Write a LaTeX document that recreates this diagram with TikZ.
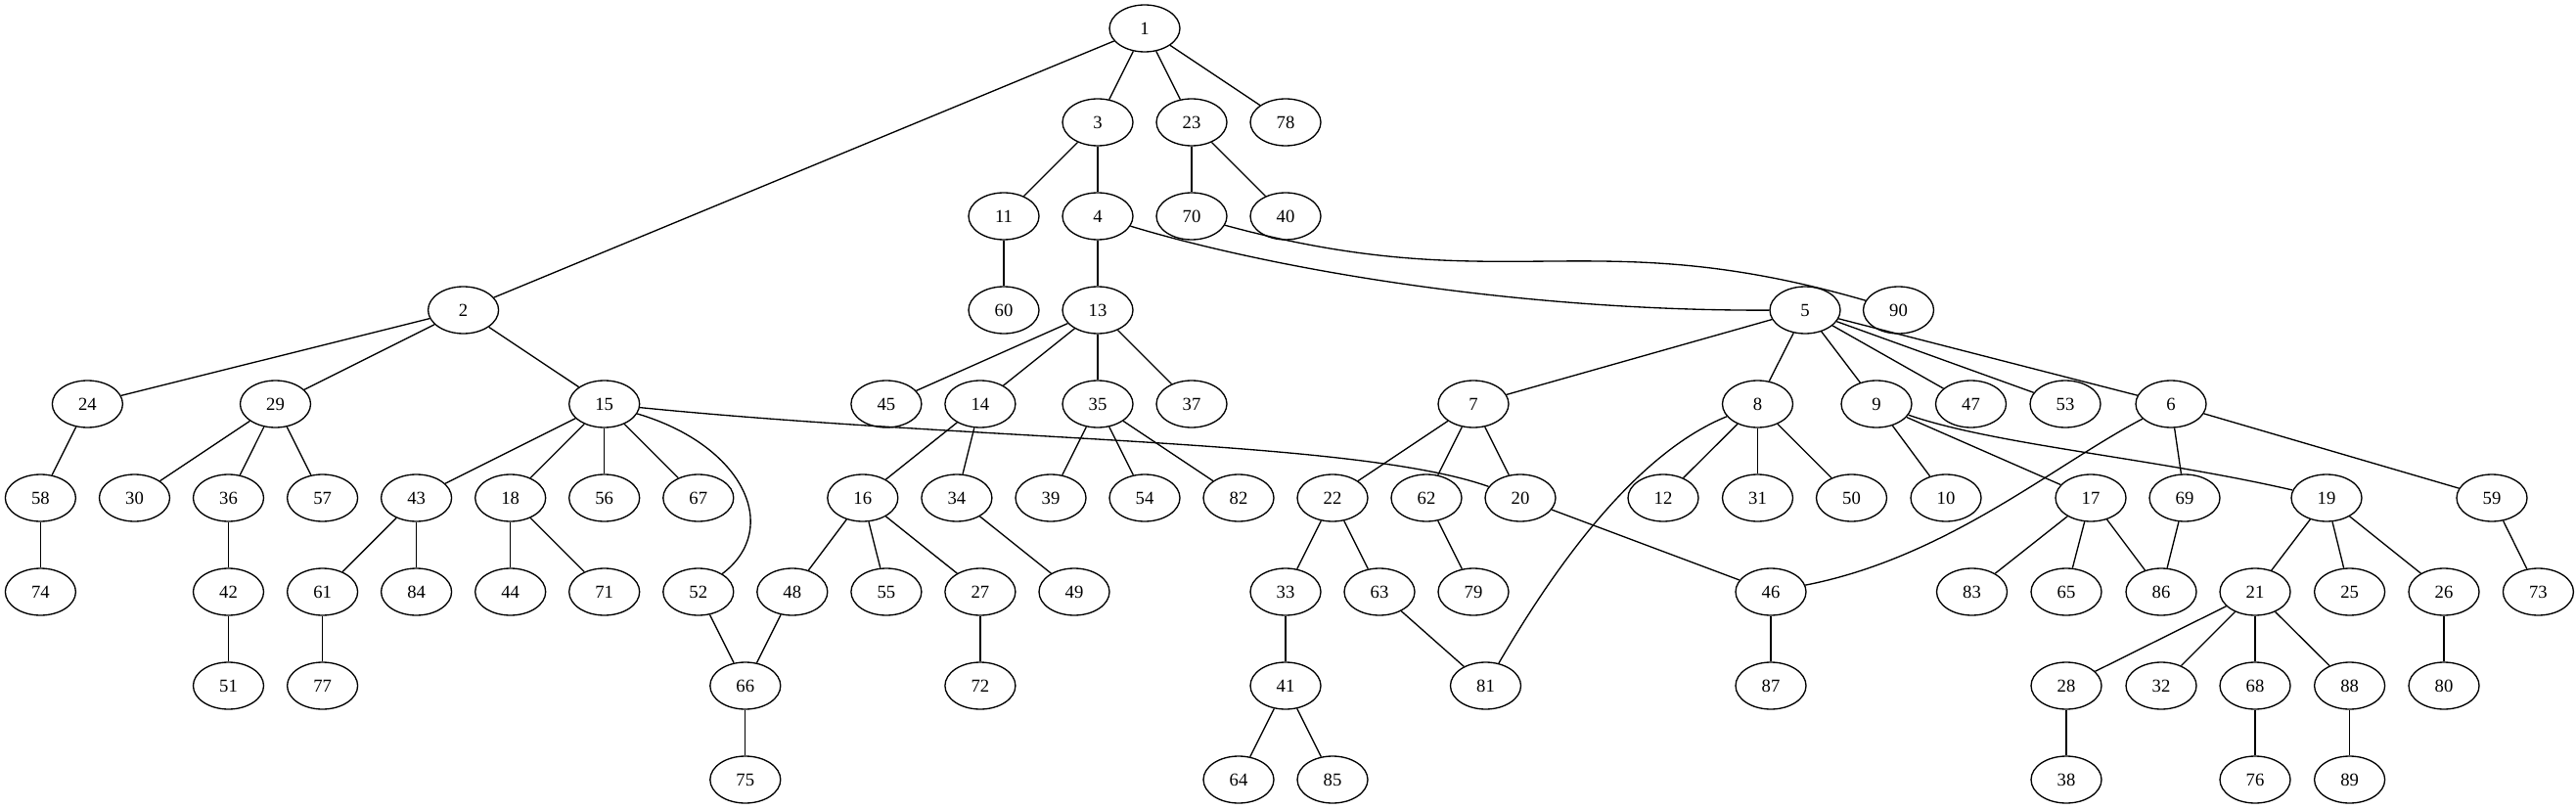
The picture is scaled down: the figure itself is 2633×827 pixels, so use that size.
\documentclass[tikz,border=0pt]{standalone}
\usepackage{fontspec}
\setmainfont{Liberation Serif}
\usetikzlibrary{shapes.geometric}

\begin{document}
\begin{tikzpicture}[x=0.75pt,y=-0.75pt,line width=1pt,
	vertex/.style={draw,ellipse,inner sep=0pt,minimum width=54pt,minimum height=36pt,font=\fontsize{14}{16}\selectfont}]
\useasboundingbox (0,0) rectangle (2633,827);
% nodes: label/x/rank
\foreach \n/\x/\r in {1/1170/0,
	3/1122/1, 23/1218/1, 78/1314/1,
	11/1026/2, 4/1122/2, 70/1218/2, 40/1314/2,
	2/473.6/3, 60/1026/3, 13/1122/3, 5/1845/3, 90/1940.5/3,
	24/89.4/4, 29/281.5/4, 15/617.7/4, 45/905.9/4, 14/1001.9/4, 35/1122/4, 37/1218/4,
	7/1506/4, 8/1796.5/4, 9/1918/4, 47/2014.5/4, 53/2111/4, 6/2219/4,
	58/41.4/5, 30/137.5/5, 36/233.5/5, 57/329.6/5, 43/425.6/5, 18/521.7/5, 56/617.7/5,
	67/713.8/5, 16/881.8/5, 34/977.9/5, 39/1074/5, 54/1170/5, 82/1266/5, 22/1362/5,
	62/1458/5, 20/1554/5, 12/1700/5, 31/1796.5/5, 50/1892.5/5, 10/1989/5, 17/2137/5,
	69/2233/5, 19/2378/5, 59/2547/5,
	74/41.4/6, 42/233.5/6, 61/329.6/6, 84/425.6/6, 44/521.7/6, 71/617.7/6, 52/713.8/6,
	48/809.8/6, 55/905.9/6, 27/1001.9/6, 49/1098/6, 33/1314/6, 63/1410/6, 79/1506/6,
	46/1810/6, 83/2015.5/6, 65/2112/6, 86/2209/6, 21/2305/6, 25/2401.6/6, 26/2498/6,
	73/2594.4/6,
	51/233.5/7, 77/329.6/7, 66/761.8/7, 72/1001.9/7, 41/1314/7, 81/1518.5/7, 87/1810/7,
	28/2112/7, 32/2209/7, 68/2305/7, 88/2401.6/7, 80/2498/7,
	75/761.8/8, 64/1266/8, 85/1362/8, 38/2112/8, 76/2305/8, 89/2401.6/8}
	\node[vertex] (n\n) at (\x,29+96*\r) {\n};
% straight edges
\foreach \a/\b in {1/2,1/3,1/23,1/78,3/11,3/4,23/70,23/40,11/60,4/13,2/24,2/29,2/15,
	13/45,13/14,13/35,13/37,5/7,5/8,5/9,5/47,5/53,5/6,24/58,29/30,29/36,29/57,
	15/43,15/18,15/56,15/67,14/16,14/34,35/39,35/54,35/82,7/22,7/62,7/20,
	8/12,8/31,8/50,9/10,9/17,6/69,6/59,58/74,36/42,43/61,43/84,18/44,18/71,
	16/48,16/55,16/27,34/49,22/33,22/63,62/79,20/46,17/83,17/65,17/86,69/86,
	19/21,19/25,19/26,59/73,42/51,61/77,52/66,48/66,27/72,33/41,63/81,46/87,
	21/28,21/32,21/68,21/88,26/80,66/75,41/64,41/85,28/38,68/76,88/89}
	\draw (n\a) -- (n\b);
% curved edges
\draw (n4) .. controls +(178,54) and +(-295,1) .. (n5);
\draw (n70) .. controls +(320,87) and +(-317,-92) .. (n90);
\draw (n15) .. controls +(383,38) and +(-168,-60) .. (n20);
\draw (n15) .. controls +(142,42) and +(86,-65) .. (n52);
\draw (n8) .. controls +(-116,47) and +(82,-141) .. (n81);
\draw (n9) .. controls +(122,42) and +(-178,-41) .. (n19);
\draw (n6) .. controls +(-119,62) and +(180,-35) .. (n46);
\end{tikzpicture}
\end{document}
